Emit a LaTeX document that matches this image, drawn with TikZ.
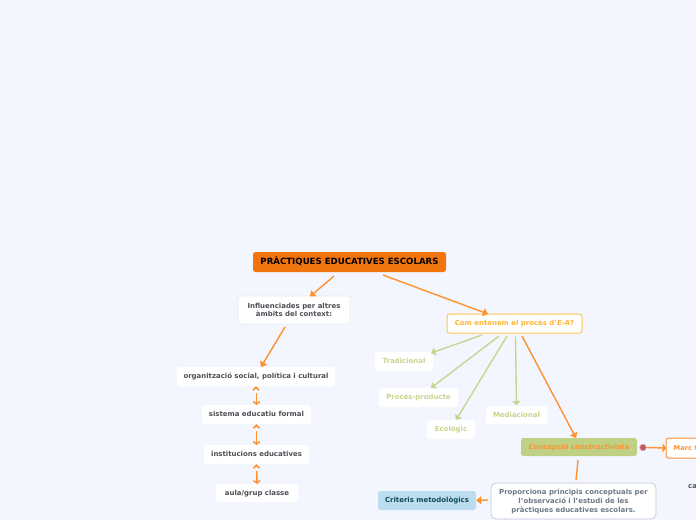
\documentclass[tikz,border=0pt]{standalone}
\usepackage{fontspec}
\setmainfont{DejaVu Sans}
\usetikzlibrary{arrows.meta,calc}
\definecolor{bgc}{HTML}{F3F6FF}
\definecolor{ora}{HTML}{FF922E}
\definecolor{grn}{HTML}{C5D690}
\definecolor{tdark}{HTML}{4A4F55}
\definecolor{tyel}{HTML}{FFB52E}
\definecolor{tgrn}{HTML}{C4D58E}
\tikzset{
 box/.style={rounded corners=2.5pt,minimum width=#1,inner sep=0pt,align=center,text height=5.5pt,text depth=1.5pt,font=\bfseries\fontsize{6.95}{8.9}\selectfont},
 multi/.style={text height=,text depth=0.3pt},
 plain/.style={box=#1,fill=white,text=tdark},
 soft/.style={box=#1,fill=white,text=tgrn},
 conn/.style={draw=ora,line width=1.4pt,-{Triangle[length=5pt,width=8pt]}},
 gconn/.style={draw=grn,line width=1.4pt,-{Triangle[length=4.5pt,width=8pt]}},
 dbl/.style={draw=ora,line width=1.5pt,shorten <=7pt,-{Straight Barb[length=2.5pt,width=6.5pt]}},
 chev/.style={draw=ora,line width=1.5pt},
}
\newcommand{\upchev}[1]{\draw[chev] ([shift={(-3,4)}]#1) -- ([shift={(0,1)}]#1) -- ([shift={(3,4)}]#1);}
\begin{document}
\begin{tikzpicture}[x=1pt,y=-1pt]
\useasboundingbox (0,0) rectangle (696,520);
\clip (0,0) rectangle (696,520);
\fill[bgc] (0,0) rectangle (696,520);
\node[box=193pt,minimum height=20pt,fill={rgb,255:red,240;green,117;blue,15},text=black,text height=6.5pt,font=\bfseries\fontsize{8.6}{10}\selectfont] (title) at (349.5,262) {PRÀCTIQUES EDUCATIVES ESCOLARS};
\node[plain=112pt,multi,minimum height=28pt,draw={rgb,255:red,230;green,234;blue,244},line width=.6pt] (infl) at (294,310) {Influenciades per altres\\àmbits del context:};
\node[plain=158pt,minimum height=19pt] (org) at (256,376.5) {organització social, política i cultural};
\node[plain=109pt,minimum height=19pt] (sis) at (256.5,414.5) {sistema educatiu formal};
\node[plain=105pt,minimum height=19pt] (inst) at (256.5,454.5) {institucions educatives};
\node[plain=82pt,minimum height=18pt] (aula) at (257,493) {aula/grup classe};
\node[box=135pt,minimum height=19pt,fill=white,draw=tyel!80,line width=1pt,text=tyel] (com) at (514.5,323.5) {Com entenem el procés d'\textit{E-A}?};
\node[soft=58pt,minimum height=19pt] (trad) at (404,361.5) {Tradicional};
\node[soft=79pt,minimum height=19pt] (proc) at (418.5,397.5) {Procés-producte};
\node[soft=48pt,minimum height=19pt] (eco) at (451,429.5) {Ecològic};
\node[soft=61pt,minimum height=18pt] (med) at (516.5,415) {Mediacional};
\node[box=116pt,minimum height=18pt,fill={rgb,255:red,192;green,208;blue,133},text=ora] (conc) at (579,447) {Concepció constructivista};
\draw[draw=ora,line width=1pt,fill=white,rounded corners=2.5pt] (720,438) -- (666,438) -- (666,458) -- (720,458);
\node[inner sep=0pt,anchor=west,text=ora,text height=5.5pt,text depth=1.5pt,font=\bfseries\fontsize{6.7}{9}\selectfont] (marc) at (673.5,448) {Marc t};
\node[box=165pt,multi,minimum height=36pt,fill=white,draw={rgb,255:red,190;green,200;blue,216},line width=.7pt,text={rgb,255:red,107;green,120;blue,134},rounded corners=5pt] (prop) at (573.5,501) {Proporciona principis conceptuals per\\l'observació i l'estudi de les\\pràctiques educatives escolars.};
\node[box=98pt,minimum height=19pt,fill={rgb,255:red,188;green,220;blue,240},text={rgb,255:red,15;green,76;blue,79}] (crit) at (427,500.5) {Criteris metodològics};
\node[inner sep=0pt,anchor=west,text=tdark,font=\bfseries\fontsize{6.95}{9}\selectfont] (ca) at (688,487) {ca};
\node[circle,minimum size=6.5pt,inner sep=0pt,fill={rgb,255:red,196;green,86;blue,100},draw={rgb,255:red,225;green,160;blue,165},line width=.7pt] (icon) at (643,447.5) {};
\draw[conn] ([shift={(-15.5,14)}]title.center) -- ([shift={(16,-13.5)}]infl.center);
\draw[conn] ([shift={(33.5,13)}]title.center) -- ([shift={(-26.5,-9.5)}]com.center);
\draw[conn] ([shift={(-9,17)}]infl.center) -- ([shift={(5,-9.5)}]org.center);
\draw[dbl] ([shift={(0.5,9.5)}]org.center) -- ([shift={(0,-9.5)}]sis.center);
\upchev{org.south}
\draw[dbl] ([shift={(0,9.5)}]sis.center) -- ([shift={(0,-9.5)}]inst.center);
\upchev{sis.south}
\draw[dbl] ([shift={(0,9.5)}]inst.center) -- ([shift={(0,-9)}]aula.center);
\upchev{inst.south}
\draw[gconn] ([shift={(-32.5,11.5)}]com.center) -- ([shift={(27,-8.5)}]trad.center);
\draw[gconn] ([shift={(-15.5,12.5)}]com.center) -- ([shift={(12.5,-9.5)}]proc.center);
\draw[gconn] ([shift={(-7.5,12.5)}]com.center) -- ([shift={(5,-9.5)}]eco.center);
\draw[gconn] ([shift={(1,13)}]com.center) -- ([shift={(0,-9.5)}]med.center);
\draw[conn] ([shift={(7.5,12.5)}]com.center) -- ([shift={(-3,-9)}]conc.center);
\draw[conn,-{Triangle[length=3.5pt,width=9pt]}] (icon.east) -- ([xshift=-7.5pt]marc.west);
\draw[draw=ora,line width=1.4pt] ([shift={(-1,13)}]conc.center) -- ([shift={(2.5,-21)}]prop.center);
\draw[conn] ([shift={(-85.5,-1)}]prop.center) -- (crit.east);
\end{tikzpicture}
\end{document}
